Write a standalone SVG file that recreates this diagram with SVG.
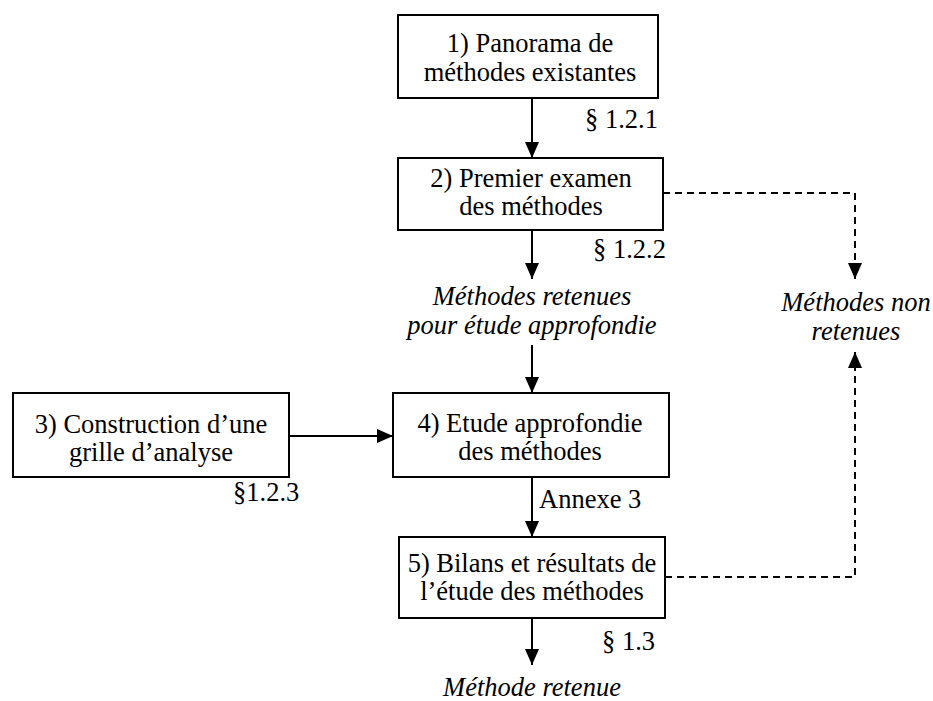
<svg xmlns="http://www.w3.org/2000/svg" width="933" height="701" viewBox="0 0 933 701">
<style>
.box{fill:#fff;stroke:#000;stroke-width:2}
.ln{fill:none;stroke:#000;stroke-width:2}
.dash{fill:none;stroke:#000;stroke-width:2;stroke-dasharray:7,5}
text{font-family:'Liberation Serif','Times New Roman',serif;font-size:26.5px;fill:#000}
.c{text-anchor:middle}
.i{font-style:italic}
</style>
<defs>
<marker id="ah" markerUnits="userSpaceOnUse" markerWidth="16" markerHeight="14" refX="16" refY="7" orient="auto">
<path d="M0,0 L16,7 L0,14 z" fill="#000"/>
</marker>
</defs>
<rect width="933" height="701" fill="#fff"/>
<g id="connectors">
<line class="ln" x1="532" y1="98" x2="532" y2="158" marker-end="url(#ah)"/>
<line class="ln" x1="532" y1="230" x2="532" y2="279" marker-end="url(#ah)"/>
<line class="ln" x1="532" y1="345" x2="532" y2="393" marker-end="url(#ah)"/>
<line class="ln" x1="289" y1="436" x2="393" y2="436" marker-end="url(#ah)"/>
<line class="ln" x1="532" y1="477" x2="532" y2="537" marker-end="url(#ah)"/>
<line class="ln" x1="532" y1="618" x2="532" y2="665" marker-end="url(#ah)"/>
<path class="dash" d="M663,193 H855 V279" marker-end="url(#ah)"/>
<path class="dash" d="M665,577 H855 V352" marker-end="url(#ah)"/>
<text x="539" y="508" font-family="Liberation Serif">Annexe 3</text>
<text x="585" y="128" font-family="Liberation Serif">§ 1.2.1</text>
<text x="593" y="258" font-family="Liberation Serif">§ 1.2.2</text>
<text x="233" y="501" font-family="Liberation Serif">§1.2.3</text>
<text x="602" y="650" font-family="Liberation Serif">§ 1.3</text>
</g>
<g id="n1">
<rect class="box" x="398" y="15" width="260" height="83"/>
<text class="c" x="530" y="52" font-family="Liberation Serif">1) Panorama de</text>
<text class="c" x="530" y="81" font-family="Liberation Serif">méthodes existantes</text>
</g>
<g id="n2">
<rect class="box" x="398" y="158" width="265" height="72"/>
<text class="c" x="531" y="187" font-family="Liberation Serif">2) Premier examen</text>
<text class="c" x="531" y="215" font-family="Liberation Serif">des méthodes</text>
</g>
<g id="retenues">
<text class="c i" x="532" y="305" font-family="Liberation Serif">Méthodes retenues</text>
<text class="c i" x="532" y="334" font-family="Liberation Serif">pour étude approfondie</text>
</g>
<g id="nonretenues">
<text class="c i" x="856" y="311" font-family="Liberation Serif">Méthodes non</text>
<text class="c i" x="856" y="340" font-family="Liberation Serif">retenues</text>
</g>
<g id="n3">
<rect class="box" x="13" y="393" width="276" height="84"/>
<text class="c" x="151" y="433" font-family="Liberation Serif">3) Construction d’une</text>
<text class="c" x="151" y="461" font-family="Liberation Serif">grille d’analyse</text>
</g>
<g id="n4">
<rect class="box" x="393" y="393" width="276" height="84"/>
<text class="c" x="530" y="432" font-family="Liberation Serif">4) Etude approfondie</text>
<text class="c" x="530" y="460" font-family="Liberation Serif">des méthodes</text>
</g>
<g id="n5">
<rect class="box" x="399" y="537" width="266" height="81"/>
<text class="c" x="532" y="572" font-family="Liberation Serif">5) Bilans et résultats de</text>
<text class="c" x="532" y="600" font-family="Liberation Serif">l’étude des méthodes</text>
</g>
<g id="final">
<text class="c i" x="532" y="696" font-family="Liberation Serif">Méthode retenue</text>
</g>
</svg>
